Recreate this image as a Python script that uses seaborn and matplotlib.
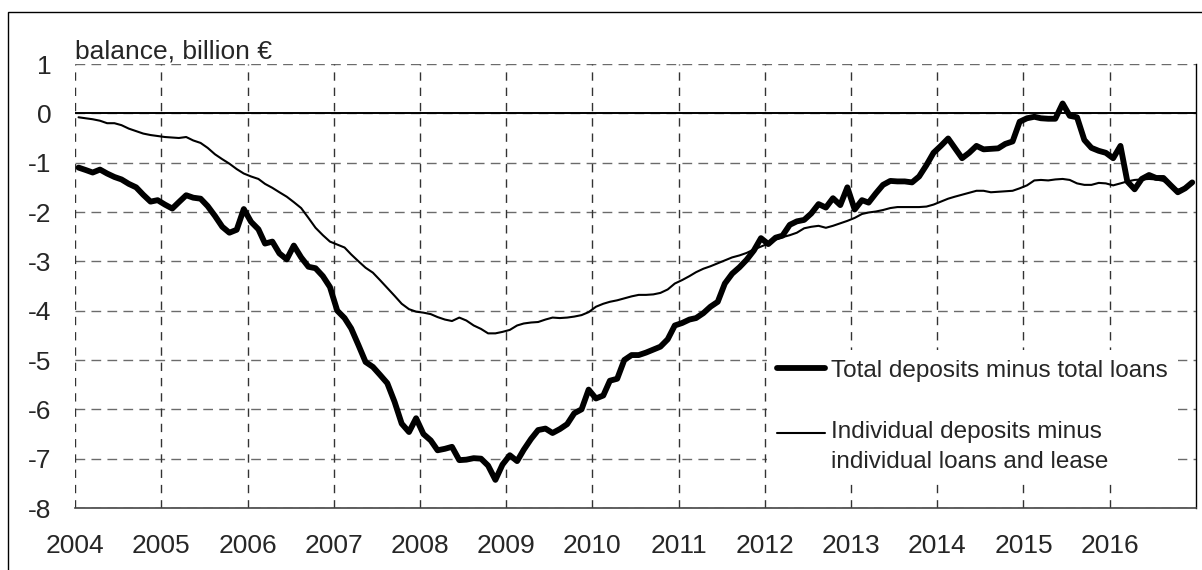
import numpy as np
import pandas as pd
import matplotlib.pyplot as plt
import matplotlib.dates as mdates
from matplotlib.legend_handler import HandlerLine2D
from matplotlib.patches import Rectangle
import seaborn as sns

# -------------------------------------
# data: monthly balance, billion EUR (Jan 2004 - Dec 2016)
# -------------------------------------
months = pd.date_range("2004-01-01", "2016-12-01", freq="MS") + pd.Timedelta(days=15)

total_balance = [
    # 2004
    -1.10, -1.15, -1.20, -1.14, -1.22, -1.29, -1.34, -1.43, -1.50, -1.65, -1.79, -1.76,
    # 2005
    -1.85, -1.93, -1.80, -1.66, -1.71, -1.73, -1.88, -2.08, -2.30, -2.42, -2.36, -1.94,
    # 2006
    -2.20, -2.35, -2.64, -2.60, -2.84, -2.96, -2.68, -2.92, -3.11, -3.14, -3.30, -3.52,
    # 2007
    -4.00, -4.15, -4.36, -4.70, -5.04, -5.14, -5.30, -5.47, -5.85, -6.29, -6.46, -6.18,
    # 2008
    -6.50, -6.63, -6.83, -6.80, -6.76, -7.03, -7.02, -6.99, -7.00, -7.14, -7.43, -7.12,
    # 2009
    -6.93, -7.05, -6.82, -6.60, -6.42, -6.39, -6.48, -6.40, -6.30, -6.08, -6.00, -5.60,
    # 2010
    -5.78, -5.72, -5.42, -5.38, -5.00, -4.90, -4.90, -4.85, -4.79, -4.73, -4.58, -4.30,
    # 2011
    -4.25, -4.18, -4.15, -4.05, -3.92, -3.82, -3.45, -3.25, -3.12, -2.97, -2.78, -2.53,
    # 2012
    -2.65, -2.52, -2.48, -2.26, -2.19, -2.16, -2.03, -1.84, -1.91, -1.72, -1.86, -1.50,
    # 2013
    -1.95, -1.76, -1.81, -1.62, -1.45, -1.37, -1.38, -1.38, -1.40, -1.28, -1.05, -0.80,
    # 2014
    -0.66, -0.51, -0.70, -0.91, -0.80, -0.66, -0.73, -0.72, -0.71, -0.62, -0.57, -0.17,
    # 2015
    -0.10, -0.07, -0.10, -0.11, -0.11, 0.20, -0.05, -0.08, -0.54, -0.70, -0.76, -0.80,
    # 2016
    -0.91, -0.66, -1.38, -1.54, -1.33, -1.25, -1.31, -1.31, -1.46, -1.60, -1.52, -1.40,
]

individual_balance = [
    # 2004
    -0.08, -0.10, -0.12, -0.15, -0.20, -0.20, -0.24, -0.31, -0.36, -0.41, -0.44, -0.46,
    # 2005
    -0.48, -0.49, -0.50, -0.48, -0.55, -0.60, -0.70, -0.83, -0.93, -1.02, -1.13, -1.22,
    # 2006
    -1.28, -1.33, -1.43, -1.51, -1.60, -1.69, -1.80, -1.92, -2.12, -2.32, -2.47, -2.60,
    # 2007
    -2.66, -2.72, -2.86, -3.00, -3.13, -3.23, -3.38, -3.54, -3.70, -3.86, -3.97, -4.02,
    # 2008
    -4.04, -4.07, -4.13, -4.18, -4.21, -4.14, -4.20, -4.30, -4.37, -4.46, -4.46, -4.43,
    # 2009
    -4.39, -4.30, -4.26, -4.24, -4.23, -4.18, -4.14, -4.15, -4.14, -4.12, -4.09, -4.03,
    # 2010
    -3.92, -3.86, -3.82, -3.79, -3.75, -3.71, -3.68, -3.68, -3.67, -3.64, -3.57, -3.45,
    # 2011
    -3.38, -3.30, -3.22, -3.15, -3.10, -3.04, -2.98, -2.92, -2.88, -2.83, -2.76, -2.70,
    # 2012
    -2.64, -2.56, -2.51, -2.47, -2.42, -2.33, -2.30, -2.28, -2.32, -2.28, -2.23, -2.18,
    # 2013
    -2.12, -2.04, -2.01, -1.99, -1.96, -1.92, -1.90, -1.90, -1.90, -1.90, -1.89, -1.85,
    # 2014
    -1.79, -1.73, -1.69, -1.65, -1.61, -1.57, -1.57, -1.60, -1.59, -1.58, -1.57, -1.52,
    # 2015
    -1.46, -1.36, -1.35, -1.36, -1.34, -1.33, -1.35, -1.42, -1.45, -1.45, -1.41, -1.42,
    # 2016
    -1.46, -1.42, -1.38, -1.35, -1.34, -1.33, -1.34, -1.37, -1.47, -1.55, -1.50, -1.41,
]

label_total = "Total deposits minus total loans"
label_individual = "Individual deposits minus\nindividual loans and lease"
y_title = "balance, billion €"
y_ticks = list(range(-8, 2))
x_years = list(range(2004, 2017))

df = pd.DataFrame({
    "date": months,
    "total": total_balance,
    "individual": individual_balance,
})


# legend line sitting next to the first line of a two-line label
class HandlerTopLine(HandlerLine2D):
    def __init__(self, shift, **kw):
        super().__init__(**kw)
        self.shift = shift

    def create_artists(self, legend, orig_handle, xdescent, ydescent,
                       width, height, fontsize, trans):
        arts = super().create_artists(legend, orig_handle, xdescent, ydescent,
                                      width, height, fontsize, trans)
        for a in arts:
            a.set_ydata(np.asarray(a.get_ydata()) + self.shift)
        return arts


# -------------------------------------
# style
# -------------------------------------
sns.set_style("white")
plt.rcParams["font.family"] = ["Liberation Sans", "DejaVu Sans"]
plt.rcParams["axes.unicode_minus"] = False
FS = 19
FS_LEG = 17.5

fig = plt.figure(figsize=(12.02, 5.70), dpi=100)
ax = fig.add_axes([75 / 1202, 1 - 508 / 570, (1196 - 75) / 1202, (508 - 64) / 570])

# grid
for yv in y_ticks:
    ax.axhline(yv, color="#6b6b6b", lw=1.0, ls=(0, (7, 4.5)), zorder=1)
for yr in x_years:
    ax.axvline(pd.Timestamp(f"{yr}-01-01"), color="#333333", lw=1.0, ls=(0, (6, 5)), zorder=1)
ax.axhline(0, color="black", lw=1.4, zorder=2)

sns.lineplot(data=df, x="date", y="total", color="black", lw=4.2,
             label=label_total, ax=ax, zorder=4)
sns.lineplot(data=df, x="date", y="individual", color="black", lw=1.5,
             label=label_individual, ax=ax, zorder=3)

ax.set_xlim(pd.Timestamp("2004-01-01"), pd.Timestamp("2017-01-01"))
ax.set_ylim(-8, 1)
ax.set_yticks(y_ticks)
ax.set_xticks([pd.Timestamp(f"{yr}-01-01") for yr in x_years])
ax.xaxis.set_major_formatter(mdates.DateFormatter("%Y"))
ax.set_xlabel("")
ax.set_ylabel("")
ax.tick_params(axis="x", length=0, pad=19, labelsize=FS)
ax.tick_params(axis="y", length=0, pad=17, labelsize=FS)

ax.spines["left"].set_visible(False)
ax.spines["top"].set_visible(False)
ax.spines["right"].set_color("black")
ax.spines["right"].set_linewidth(1.0)
ax.spines["bottom"].set_color("#444444")
ax.spines["bottom"].set_linewidth(1.2)

ax.text(0.0, 1.0, y_title, transform=ax.transAxes, fontsize=FS,
        ha="left", va="bottom")

handles, labels = ax.get_legend_handles_labels()
leg = ax.legend(handles, labels, loc="upper left",
                bbox_to_anchor=(767 / 1202, 1 - 350 / 570),
                bbox_transform=fig.transFigure, fontsize=FS_LEG, frameon=True,
                facecolor="white", edgecolor="none", framealpha=1,
                handlelength=2.0, handletextpad=0.25, labelspacing=1.6,
                borderpad=0.4, borderaxespad=0, fancybox=False,
                handler_map={handles[1]: HandlerTopLine(10)})
for t in leg.get_texts():
    t.set_linespacing(1.5)
leg.set_zorder(5)

# outer frame (cropped at right and bottom)
fig.add_artist(Rectangle((8 / 1202, -0.1), 1.2, 1.1 - 12 / 570,
                         transform=fig.transFigure, fill=False,
                         edgecolor="black", lw=1.0))

fig.savefig("out.png", dpi=100)
